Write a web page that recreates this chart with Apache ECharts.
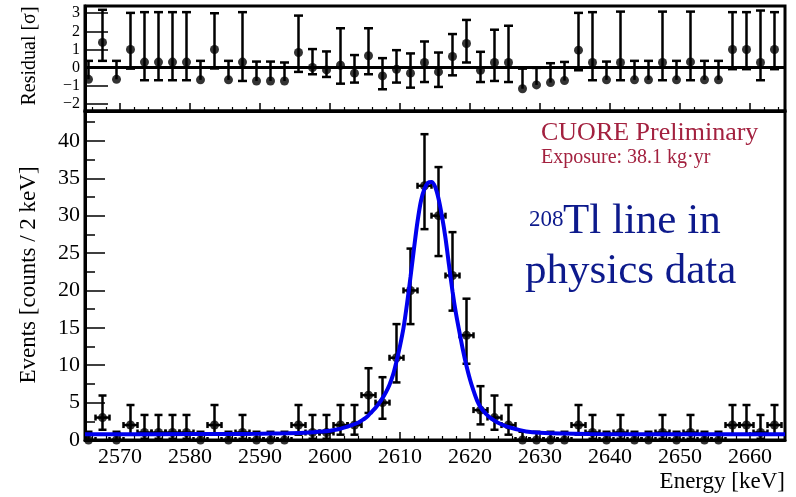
<!DOCTYPE html>
<html><head><meta charset="utf-8">
<script src="https://cdn.jsdelivr.net/npm/echarts@6/dist/echarts.min.js"></script>
<style>html,body{margin:0;padding:0;background:#fff}#c{width:796px;height:497px}</style>
</head><body><div id="c"></div>
<script>
// ---- data ----
const energy = [2565.5,2567.5,2569.5,2571.5,2573.5,2575.5,2577.5,2579.5,2581.5,2583.5,2585.5,2587.5,2589.5,2591.5,2593.5,2595.5,2597.5,2599.5,2601.5,2603.5,2605.5,2607.5,2609.5,2611.5,2613.5,2615.5,2617.5,2619.5,2621.5,2623.5,2625.5,2627.5,2629.5,2631.5,2633.5,2635.5,2637.5,2639.5,2641.5,2643.5,2645.5,2647.5,2649.5,2651.5,2653.5,2655.5,2657.5,2659.5,2661.5,2663.5];
const counts = [0,3,0,2,1,1,1,1,0,2,0,1,0,0,0,2,1,1,2,2,6,5,11,20,34,30,22,14,4,3,2,0,0,0,0,2,1,0,1,0,0,1,0,1,0,0,2,2,1,2];
const countLow = [0,1.37,0,0.71,0.17,0.17,0.17,0.17,0,0.71,0,0.17,0,0,0,0.71,0.17,0.17,0.71,0.71,3.62,2.84,7.7,15.5,28.2,24.6,17.3,10.2,2.09,1.37,0.71,0,0,0,0,0.71,0.17,0,0.17,0,0,0.17,0,0.17,0,0,0.71,0.71,0.17,0.71];
const countHigh = [1.1,5.95,1.1,4.68,3.35,3.35,3.35,3.35,1.1,4.68,1.1,3.35,1.1,1.1,1.1,4.68,3.35,3.35,4.68,4.68,9.6,8.4,15.5,25.6,40.9,36.5,27.8,18.9,7.2,5.95,4.68,1.1,1.1,1.1,1.1,4.68,3.35,1.1,3.35,1.1,1.1,3.35,1.1,3.35,1.1,1.1,4.68,4.68,3.35,4.68];
const residual = [-0.65,1.39,-0.65,1.0,0.3,0.3,0.3,0.3,-0.68,1.0,-0.68,0.3,-0.74,-0.74,-0.74,0.83,0.0,-0.13,0.13,-0.31,0.65,-0.46,-0.1,-0.31,0.28,-0.24,0.61,1.33,-0.15,0.28,0.28,-1.17,-0.96,-0.83,-0.72,0.96,0.28,-0.68,0.28,-0.68,-0.68,0.28,-0.68,0.31,-0.68,-0.68,1.0,1.0,0.28,1.0];
const residualLow = [-0.65,0.37,-0.65,-0.06,-0.7,-0.7,-0.7,-0.7,-0.68,-0.05,-0.68,-0.74,-0.74,-0.74,-0.74,-0.24,-0.37,-0.52,-0.89,-0.83,-0.37,-1.2,-0.83,-1.11,-0.8,-1.07,-0.43,0.28,-0.8,-0.74,-0.8,-1.17,-0.96,-0.83,-0.72,-0.15,-0.7,-0.68,-0.7,-0.68,-0.68,-0.7,-0.68,-0.7,-0.68,-0.68,-0.09,-0.09,-0.7,-0.09];
const residualHigh = [0.37,3.19,0.37,3.02,3.06,3.06,3.06,3.06,0.37,3.0,0.37,3.06,0.33,0.33,0.28,2.87,1.02,0.89,2.17,0.69,2.17,0.52,0.96,0.78,1.44,0.83,1.85,2.63,0.87,2.09,2.31,-0.06,-0.02,0.24,0.31,3.02,3.06,0.33,3.09,0.37,0.37,3.09,0.37,3.09,0.37,0.37,3.06,3.06,3.15,3.06];
const fitEnergy = [2565,2575,2585,2590,2594,2597,2599,2600,2601,2602,2603,2604,2604.5,2605,2605.5,2606,2606.5,2607,2607.5,2608,2608.5,2609,2609.5,2610,2610.5,2611,2611.5,2612,2612.5,2613,2613.5,2614,2614.5,2615,2615.5,2616,2616.5,2617,2617.5,2618,2618.5,2619,2619.5,2620,2620.5,2621,2621.5,2622,2622.5,2623,2623.5,2624,2625,2626,2627,2628,2630,2633,2637,2645,2655,2665];
const fitValue = [0.78,0.78,0.8,0.83,0.9,1.0,1.15,1.25,1.4,1.65,1.95,2.3,2.6,2.9,3.3,3.8,4.3,4.9,5.6,6.4,7.4,8.7,10.5,12.6,15.0,18.2,21.8,25.6,29.2,32.0,33.6,34.4,34.5,33.9,32.3,29.9,27.0,23.4,19.9,16.9,14.4,12.0,9.9,8.1,6.6,5.3,4.4,3.8,3.3,2.9,2.6,2.3,1.9,1.6,1.35,1.15,0.98,0.86,0.8,0.78,0.78,0.78];
const binHalfWidth = 1; // 2 keV bins

// ---- build ----
const FONT = "'Liberation Serif', 'Times New Roman', serif";
const mainData = energy.map((e, i) => [e, counts[i], countLow[i], countHigh[i]]);
const resData = energy.map((e, i) => [e, residual[i], residualLow[i], residualHigh[i]]);
const fitData = fitEnergy.map((e, i) => [e, fitValue[i]]);

function errStyle() { return { stroke: '#000', lineWidth: 2.5 }; }

function mainErr(params, api) {
  const x = api.value(0), y = api.value(1), lo = api.value(2), hi = api.value(3);
  const c = api.coord([x, y]);
  const pLo = api.coord([x, lo]);
  const pHi = api.coord([x, hi]);
  const pL = api.coord([x - binHalfWidth, y]);
  const pR = api.coord([x + binHalfWidth, y]);
  const cap = 4, hc = 3;
  const ch = [
    { type: 'line', shape: { x1: c[0], y1: pLo[1], x2: c[0], y2: pHi[1] }, style: errStyle() },
    { type: 'line', shape: { x1: c[0] - cap, y1: pHi[1], x2: c[0] + cap, y2: pHi[1] }, style: errStyle() },
    { type: 'line', shape: { x1: pL[0], y1: c[1], x2: pR[0], y2: c[1] }, style: errStyle() },
    { type: 'line', shape: { x1: pL[0], y1: c[1] - hc, x2: pL[0], y2: c[1] + hc }, style: errStyle() },
    { type: 'line', shape: { x1: pR[0], y1: c[1] - hc, x2: pR[0], y2: c[1] + hc }, style: errStyle() }
  ];
  if (lo < y) ch.push({ type: 'line', shape: { x1: c[0] - cap, y1: pLo[1], x2: c[0] + cap, y2: pLo[1] }, style: errStyle() });
  return { type: 'group', children: ch };
}
function resErr(params, api) {
  const x = api.value(0), y = api.value(1), lo = api.value(2), hi = api.value(3);
  const c = api.coord([x, y]);
  const pLo = api.coord([x, lo]);
  const pHi = api.coord([x, hi]);
  const cap = 4.5;
  const ch = [
    { type: 'line', shape: { x1: c[0], y1: pLo[1], x2: c[0], y2: pHi[1] }, style: errStyle() },
    { type: 'line', shape: { x1: c[0] - cap, y1: pHi[1], x2: c[0] + cap, y2: pHi[1] }, style: errStyle() }
  ];
  if (lo < y) ch.push({ type: 'line', shape: { x1: c[0] - cap, y1: pLo[1], x2: c[0] + cap, y2: pLo[1] }, style: errStyle() });
  return { type: 'group', children: ch };
}

const axisLine = { show: true, onZero: false, lineStyle: { color: '#000', width: 3 } };
const xBase = {
  type: 'value', min: 2565, max: 2665, splitNumber: 10,
  axisLine: axisLine,
  axisTick: { show: true, inside: true, length: 8, lineStyle: { color: '#000', width: 1.5 } },
  minorTick: { show: true, splitNumber: 5, length: 4, lineStyle: { color: '#000', width: 1.2 } },
  splitLine: { show: false }, minorSplitLine: { show: false }
};

const chart = echarts.init(document.getElementById('c'), null, { renderer: 'canvas' });
chart.setOption({
  animation: false,
  backgroundColor: '#fff',
  grid: [
    { left: 85, width: 700, top: 6, height: 105, show: true, borderColor: '#000', borderWidth: 3, backgroundColor: 'transparent' },
    { left: 85, width: 700, top: 111, height: 329, show: true, borderColor: '#000', borderWidth: 3, backgroundColor: 'transparent' }
  ],
  xAxis: [
    Object.assign({}, xBase, { gridIndex: 0, axisLabel: { show: false } }),
    Object.assign({}, xBase, { gridIndex: 1,
      axisLabel: { show: true, color: '#000', fontFamily: FONT, fontSize: 22, margin: 6, showMinLabel: false, showMaxLabel: false,
        formatter: v => String(v) } })
  ],
  yAxis: [
    { type: 'value', gridIndex: 0, min: -2.4, max: 3.4, splitNumber: 6,
      axisLine: axisLine,
      axisTick: { show: true, inside: true, length: 23, lineStyle: { color: '#000', width: 1.5 } },
      splitLine: { show: false },
      axisLabel: { show: true, color: '#000', fontFamily: FONT, fontSize: 16, margin: 5, showMinLabel: false, showMaxLabel: false,
        formatter: v => String(v).replace('-', '\u2212') } },
    { type: 'value', gridIndex: 1, min: 0, max: 44, interval: 5,
      axisLine: axisLine,
      axisTick: { show: true, inside: true, length: 20, lineStyle: { color: '#000', width: 1.5 } },
      minorTick: { show: true, splitNumber: 2, length: 10, lineStyle: { color: '#000', width: 1.5 } },
      splitLine: { show: false }, minorSplitLine: { show: false },
      axisLabel: { show: true, color: '#000', fontFamily: FONT, fontSize: 22, margin: 5, showMaxLabel: false,
        formatter: v => (v % 5 === 0 ? String(v) : '') } }
  ],
  series: [
    { type: 'custom', xAxisIndex: 0, yAxisIndex: 0, data: resData, renderItem: resErr, z: 2, clip: true, silent: true },
    { type: 'scatter', xAxisIndex: 0, yAxisIndex: 0, data: resData.map(d => [d[0], d[1]]), symbol: 'circle', symbolSize: 9,
      itemStyle: { color: '#000' }, z: 3, silent: true,
      markLine: { silent: true, symbol: 'none', label: { show: false }, lineStyle: { color: '#000', width: 3, type: 'solid' }, data: [{ yAxis: 0 }] } },
    { type: 'custom', xAxisIndex: 1, yAxisIndex: 1, data: mainData, renderItem: mainErr, z: 2, clip: true, silent: true },
    { type: 'scatter', xAxisIndex: 1, yAxisIndex: 1, data: mainData.map(d => [d[0], d[1]]), symbol: 'circle', symbolSize: 9,
      itemStyle: { color: '#000' }, z: 3, silent: true, clip: false },
    { type: 'line', xAxisIndex: 1, yAxisIndex: 1, data: fitData, showSymbol: false, smooth: 0.3,
      lineStyle: { color: '#0000ee', width: 4 }, z: 4, silent: true }
  ],
  graphic: [
    { type: 'text', x: 30, y: 56, rotation: Math.PI / 2,
      style: { text: 'Residual [\u03c3]', font: "20px " + FONT, fill: '#000', align: 'center', verticalAlign: 'middle' } },
    { type: 'text', x: 29, y: 275, rotation: Math.PI / 2,
      style: { text: 'Events [counts / 2 keV]', font: "23px " + FONT, fill: '#000', align: 'center', verticalAlign: 'middle' } },
    { type: 'text', x: 785, y: 482,
      style: { text: 'Energy [keV]', font: "23px " + FONT, fill: '#000', align: 'right', verticalAlign: 'middle' } },
    { type: 'text', x: 541, y: 133,
      style: { text: 'CUORE Preliminary', font: "26px " + FONT, fill: '#a3213f', align: 'left', verticalAlign: 'middle' } },
    { type: 'text', x: 541, y: 158,
      style: { text: 'Exposure: 38.1 kg\u00b7yr', font: "20px " + FONT, fill: '#a3213f', align: 'left', verticalAlign: 'middle' } },
    { type: 'text', x: 529, y: 220,
      style: { text: '208', font: "23px " + FONT, fill: '#0d1a8c', align: 'left', verticalAlign: 'middle' } },
    { type: 'text', x: 563, y: 222,
      style: { text: 'Tl line in', font: "43px " + FONT, fill: '#0d1a8c', align: 'left', verticalAlign: 'middle' } },
    { type: 'text', x: 525, y: 272,
      style: { text: 'physics data', font: "43px " + FONT, fill: '#0d1a8c', align: 'left', verticalAlign: 'middle' } }
  ]
});
</script>
</body></html>
